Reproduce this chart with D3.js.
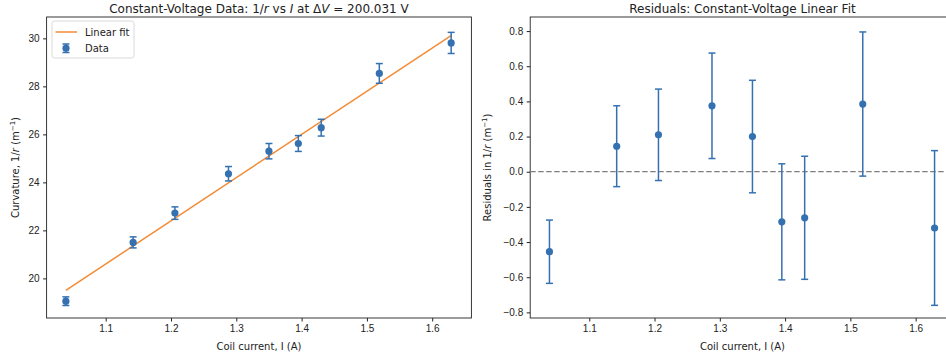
<!DOCTYPE html>
<html>
<head>
<meta charset="utf-8">
<script src="https://cdn.jsdelivr.net/npm/d3@7"></script>
<style>
  body { margin: 0; background: #fff; }
  svg { display: block; font-family: "DejaVu Sans", sans-serif; }
  .tick text { font-size: 10px; fill: #222; }
  .tick line, .domain { stroke: #222; }
</style>
</head>
<body>
<div id="chart"></div>
<script>
const current = [1.039, 1.142, 1.206, 1.288, 1.350, 1.395, 1.430, 1.519, 1.629];
const curvature = [19.05, 21.50, 22.72, 24.36, 25.30, 25.62, 26.28, 28.54, 29.81];
const curvatureErr = [0.18, 0.23, 0.26, 0.30, 0.32, 0.33, 0.35, 0.41, 0.44];
const residual = [-0.455, 0.145, 0.21, 0.375, 0.20, -0.285, -0.262, 0.385, -0.32];
const fitCurrent = [1.039, 1.630];
const fitCurvature = [19.50, 30.14];
const xTicks = [1.1, 1.2, 1.3, 1.4, 1.5, 1.6];
const leftYTicks = [20, 22, 24, 26, 28, 30];
const rightYTicks = [-0.8, -0.6, -0.4, -0.2, 0.0, 0.2, 0.4, 0.6, 0.8];

const W = 946, H = 358;
const blue = "#3571b1", orange = "#f28b36";

const svg = d3.select("#chart").append("svg")
  .attr("width", W).attr("height", H);

const xDomain = [1.0095, 1.660];

// ---------- left panel: data + fit ----------
const L = { left: 46.6, right: 471.4, top: 17, bottom: 318 };
const xL = d3.scaleLinear().domain(xDomain).range([L.left, L.right]);
const yL = d3.scaleLinear().domain([18.35, 30.89]).range([L.bottom, L.top]);

// ---------- right panel: residuals ----------
const R = { left: 530.2, right: 954.8, top: 17, bottom: 318 };
const xR = d3.scaleLinear().domain(xDomain).range([R.left, R.right]);
const yR = d3.scaleLinear().domain([-0.832, 0.88]).range([R.bottom, R.top]);

function drawAxes(g, x, y, box, yTicks, yFmt) {
  g.append("g")
    .attr("transform", `translate(0,${box.bottom})`)
    .call(d3.axisBottom(x).tickValues(xTicks).tickFormat(d3.format(".1f")).tickSize(3.5).tickPadding(3.5))
    .call(a => a.select(".domain").remove());
  g.append("g")
    .attr("transform", `translate(${box.left},0)`)
    .call(d3.axisLeft(y).tickValues(yTicks).tickFormat(yFmt).tickSize(3.5).tickPadding(3.5))
    .call(a => a.select(".domain").remove());
  g.append("rect")
    .attr("x", box.left).attr("y", box.top)
    .attr("width", box.right - box.left).attr("height", box.bottom - box.top)
    .attr("fill", "none").attr("stroke", "#222").attr("stroke-width", 0.9);
}

function drawErrorBars(g, x, y, vals) {
  const eb = g.append("g").attr("stroke", blue).attr("stroke-width", 1.5);
  current.forEach((c, i) => {
    const cx = x(c), top = y(vals[i] + curvatureErr[i]), bot = y(vals[i] - curvatureErr[i]);
    eb.append("line").attr("x1", cx).attr("x2", cx).attr("y1", top).attr("y2", bot);
    eb.append("line").attr("x1", cx - 3.5).attr("x2", cx + 3.5).attr("y1", top).attr("y2", top);
    eb.append("line").attr("x1", cx - 3.5).attr("x2", cx + 3.5).attr("y1", bot).attr("y2", bot);
  });
  g.append("g").selectAll("circle")
    .data(current)
    .join("circle")
    .attr("cx", d => x(d))
    .attr("cy", (d, i) => y(vals[i]))
    .attr("r", 3.6)
    .attr("fill", blue);
}

const gL = svg.append("g");
drawAxes(gL, xL, yL, L, leftYTicks, d3.format("d"));

gL.append("path")
  .datum(fitCurrent.map((c, i) => [c, fitCurvature[i]]))
  .attr("d", d3.line().x(d => xL(d[0])).y(d => yL(d[1])))
  .attr("fill", "none").attr("stroke", orange).attr("stroke-width", 1.5);

drawErrorBars(gL, xL, yL, curvature);

// legend
const lg = gL.append("g");
lg.append("rect").attr("x", 52).attr("y", 21).attr("width", 82).attr("height", 37)
  .attr("rx", 2.5).attr("fill", "#fff").attr("fill-opacity", 0.8)
  .attr("stroke", "#d5d5d5").attr("stroke-width", 0.9);
lg.append("line").attr("x1", 55.5).attr("x2", 77).attr("y1", 32).attr("y2", 32)
  .attr("stroke", orange).attr("stroke-width", 1.5);
lg.append("text").attr("x", 85).attr("y", 35.5).attr("font-size", 10).attr("fill", "#222").text("Linear fit");
lg.append("line").attr("x1", 66).attr("x2", 66).attr("y1", 44).attr("y2", 52.5).attr("stroke", blue).attr("stroke-width", 1.5);
lg.append("line").attr("x1", 62.5).attr("x2", 69.5).attr("y1", 44).attr("y2", 44).attr("stroke", blue).attr("stroke-width", 1.5);
lg.append("line").attr("x1", 62.5).attr("x2", 69.5).attr("y1", 52.5).attr("y2", 52.5).attr("stroke", blue).attr("stroke-width", 1.5);
lg.append("circle").attr("cx", 66).attr("cy", 48.2).attr("r", 3.6).attr("fill", blue);
lg.append("text").attr("x", 85).attr("y", 51.5).attr("font-size", 10).attr("fill", "#222").text("Data");

// left title
const tL = gL.append("text").attr("x", (L.left + L.right) / 2).attr("y", 13)
  .attr("text-anchor", "middle").attr("font-size", 12).attr("fill", "#222");
tL.append("tspan").text("Constant-Voltage Data: 1/");
tL.append("tspan").attr("font-style", "italic").text("r");
tL.append("tspan").text(" vs ");
tL.append("tspan").attr("font-style", "italic").text("I");
tL.append("tspan").text(" at \u0394");
tL.append("tspan").attr("font-style", "italic").text("V");
tL.append("tspan").text(" = 200.031 V");

function yLabel(g, x, prefix) {
  const t = g.append("text")
    .attr("transform", `translate(${x},${(L.top + L.bottom) / 2}) rotate(-90)`)
    .attr("text-anchor", "middle").attr("font-size", 10).attr("fill", "#222");
  t.append("tspan").text(prefix + " 1/");
  t.append("tspan").attr("font-style", "italic").text("r");
  t.append("tspan").text(" (m");
  t.append("tspan").attr("font-size", 7).attr("dy", -4).text("\u22121");
  t.append("tspan").attr("dy", 4).text(")");
}
yLabel(gL, 18.5, "Curvature,");

gL.append("text").attr("x", (L.left + L.right) / 2).attr("y", 349.5)
  .attr("text-anchor", "middle").attr("font-size", 10).attr("fill", "#222")
  .text("Coil current, I (A)");

// right panel
const gR = svg.append("g");
drawAxes(gR, xR, yR, R, rightYTicks, d3.format(".1f"));

gR.append("line").attr("x1", R.left).attr("x2", R.right)
  .attr("y1", yR(0)).attr("y2", yR(0))
  .attr("stroke", "#808080").attr("stroke-width", 1.3).attr("stroke-dasharray", "5.5,2.5");

drawErrorBars(gR, xR, yR, residual);

gR.append("text").attr("x", (R.left + R.right) / 2).attr("y", 13)
  .attr("text-anchor", "middle").attr("font-size", 12).attr("fill", "#222")
  .text("Residuals: Constant-Voltage Linear Fit");

yLabel(gR, 490.5, "Residuals in");

gR.append("text").attr("x", (R.left + R.right) / 2).attr("y", 349.5)
  .attr("text-anchor", "middle").attr("font-size", 10).attr("fill", "#222")
  .text("Coil current, I (A)");
</script>
</body>
</html>
